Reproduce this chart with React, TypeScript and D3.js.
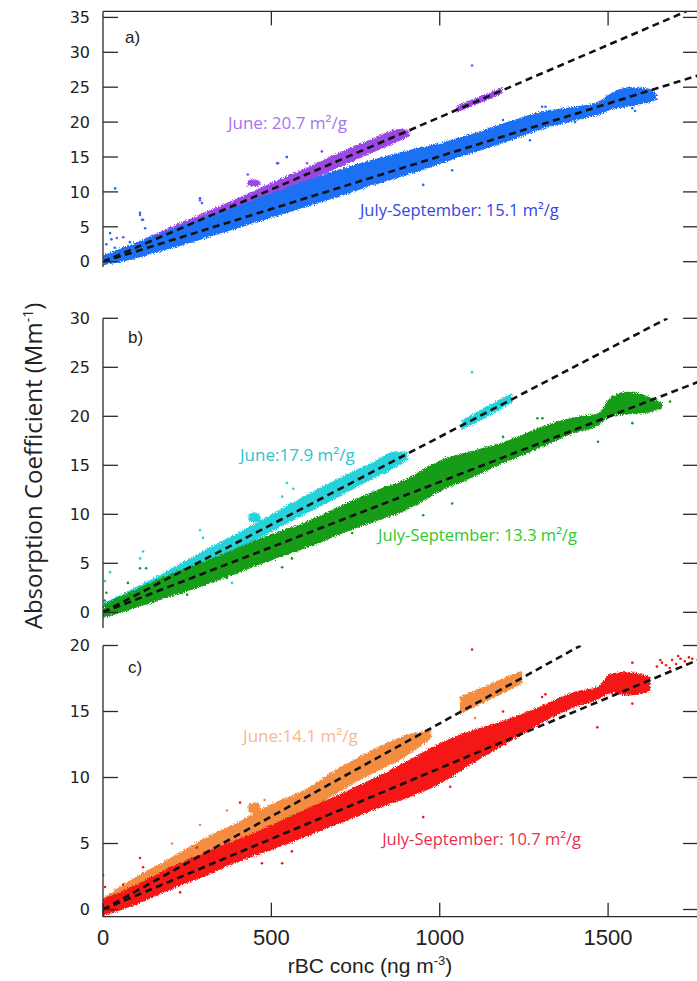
import React from "react";
import * as d3 from "d3";

// ---------- data ----------
const xTicks = [0, 500, 1000, 1500];
const yTicksA = [0, 5, 10, 15, 20, 25, 30, 35];
const yTicksB = [0, 5, 10, 15, 20, 25, 30];
const yTicksC = [0, 5, 10, 15, 20];
const panelLetters = ["a)", "b)", "c)"];

// fitted mass absorption cross sections (m2/g -> Mm-1 per ng m-3 = value/1000)
const juneSlopes = [0.0207, 0.0179, 0.0141];
const julySlopes = [0.0151, 0.0133, 0.0107];
const juneLabels = ["June: 20.7 m²/g", "June:17.9 m²/g", "June:14.1 m²/g"];
const julyLabels = ["July-September: 15.1 m²/g", "July-September: 13.3 m²/g", "July-September: 10.7 m²/g"];

type B = [number, number, number] | null;
// dense point clouds, read as [rBC, lower edge, upper edge]; null separates clusters
const juneBandA: B[] = [
  [0, -0.2, 0.8], [100, 1.4, 2.8], [200, 3.4, 4.9], [300, 5.4, 7.0], [400, 7.4, 9.1], [500, 9.4, 11.3],
  [600, 11.4, 13.4], [700, 13.5, 15.6], [800, 15.6, 17.6], [880, 17.3, 19.0], [910, 18.0, 18.8], null,
  [428, 10.9, 11.6], [448, 10.8, 11.8], [468, 11.0, 11.5], null,
  [1050, 21.4, 22.3], [1120, 22.7, 23.7], [1185, 24.1, 24.9],
];
const julyBandA: B[] = [
  [0, -0.5, 0.9], [100, 0.5, 2.8], [200, 1.9, 4.6], [300, 3.3, 6.3], [400, 4.8, 8.0], [500, 6.3, 9.8],
  [600, 7.8, 11.6], [700, 9.3, 13.2], [800, 10.9, 14.6], [900, 12.4, 15.9], [1000, 14.0, 17.0],
  [1100, 15.6, 18.4], [1200, 17.2, 20.0], [1300, 18.9, 21.5], [1400, 20.2, 22.2], [1470, 21.0, 22.9],
  [1510, 21.8, 24.2], [1560, 22.2, 25.0], [1620, 22.8, 24.8], [1645, 23.2, 24.0],
];
const juneBandB: B[] = [
  [0, -0.2, 0.9], [100, 1.2, 2.6], [200, 2.9, 4.4], [300, 4.7, 6.3], [400, 6.4, 8.1], [500, 8.2, 10.0],
  [600, 10.0, 11.9], [700, 11.8, 13.7], [800, 13.6, 15.3], [870, 14.8, 16.4], [905, 15.6, 16.4], null,
  [432, 9.4, 10.0], [450, 9.2, 10.2], [468, 9.3, 9.9], null,
  [1065, 18.6, 19.6], [1140, 19.9, 21.0], [1215, 21.4, 22.4],
];
const julyBandB: B[] = [
  [0, -0.6, 0.8], [100, 0.5, 2.4], [200, 1.6, 3.9], [300, 2.7, 5.2], [400, 4.0, 6.6], [500, 5.3, 8.0],
  [600, 6.5, 9.2], [700, 7.9, 10.8], [800, 9.2, 12.3], [900, 10.4, 13.6], [1000, 12.3, 15.5],
  [1100, 13.8, 16.5], [1200, 15.4, 17.5], [1300, 16.8, 18.9], [1400, 18.3, 19.9], [1470, 19.0, 20.3],
  [1510, 20.0, 22.0], [1560, 20.2, 22.5], [1620, 20.4, 22.0], [1660, 20.8, 21.4],
];
const juneBandC: B[] = [
  [0, -0.3, 0.9], [100, 0.9, 2.5], [200, 2.3, 3.9], [300, 3.7, 5.4], [400, 4.9, 6.6], [500, 6.2, 8.0],
  [600, 7.3, 9.1], [700, 8.9, 10.7], [800, 10.3, 12.1], [900, 11.6, 13.2], [975, 13.0, 13.6], null,
  [432, 7.4, 8.0], [450, 7.3, 8.1], [468, 7.4, 7.9], null,
  [1060, 14.8, 16.1], [1150, 15.9, 17.1], [1245, 17.1, 18.1],
];
const julyBandC: B[] = [
  [0, -0.5, 0.8], [100, 0.4, 1.9], [200, 1.5, 3.2], [300, 2.5, 4.3], [400, 3.6, 5.3], [500, 4.5, 6.4],
  [600, 5.5, 7.6], [700, 6.5, 8.7], [800, 7.5, 9.9], [900, 8.4, 11.2], [1000, 9.5, 12.6],
  [1100, 11.1, 13.6], [1200, 12.6, 14.4], [1300, 14.1, 15.4], [1400, 15.3, 16.5], [1470, 15.9, 16.9],
  [1510, 16.4, 17.9], [1560, 16.2, 18.0], [1625, 16.6, 17.6],
];

// scattered individual points [rBC, absorption]
const juneDotsA: [number, number][] = [
  [520, 14.1], [546, 15.0], [606, 14.1], [288, 8.8], [110, 6.7], [119, 6.0], [41, 3.4], [1096, 28.1], [430, 12.5], [650, 15.8],
];
const julyDotsA: [number, number][] = [
  [36, 10.5], [21, 4.1], [10, 2.5], [25, 3.2], [35, 2.0], [110, 7.0], [116, 6.0], [125, 4.8], [288, 9.1], [294, 8.4],
  [517, 14.1], [546, 15.0], [951, 11.0], [1037, 13.1], [1188, 20.3], [1268, 17.4], [1304, 22.2], [1314, 22.2],
  [1402, 20.0], [1572, 22.0], [1580, 21.6], [60, 3.5], [80, 2.8],
];
const juneDotsB: [number, number][] = [
  [546, 13.2], [532, 11.8], [110, 5.5], [119, 6.2], [21, 4.1], [6, 3.2], [288, 8.4], [297, 7.6], [383, 3.0], [1096, 24.5], [565, 12.6],
];
const julyDotsB: [number, number][] = [
  [110, 4.5], [128, 4.5], [74, 3.0], [235, 2.0], [250, 1.8], [368, 3.5], [416, 4.5], [532, 4.6], [561, 5.5], [624, 6.9],
  [740, 8.1], [1037, 11.1], [951, 9.9], [1188, 17.9], [1470, 17.4], [1572, 19.3], [1684, 21.5], [1290, 19.8], [1305, 19.8],
  [10, 2.0], [5, 1.2],
];
const juneDotsC: [number, number][] = [
  [368, 7.5], [288, 6.4], [205, 5.0], [674, 10.3], [1105, 14.5], [480, 8.3],
];
const julyDotsC: [number, number][] = [
  [0, 2.6], [6, 1.7], [110, 3.9], [119, 3.2], [150, 2.2], [229, 1.3], [279, 4.7], [407, 8.1], [472, 3.5], [532, 3.5],
  [561, 4.4], [725, 6.8], [1096, 19.7], [1304, 16.1], [1314, 16.3], [1188, 15.0], [951, 7.0], [1031, 9.3], [1090, 12.8],
  [1468, 13.8], [1572, 15.6], [1572, 18.7], [30, 0.6], [60, 1.9],
  [1645, 18.4], [1660, 18.7], [1672, 18.5], [1690, 18.9], [1702, 18.6], [1715, 19.0], [1728, 18.8], [1740, 19.1],
  [1655, 18.9], [1683, 18.3], [1708, 19.2], [1735, 18.6], [1750, 19.0],
];

// ---------- layout & style ----------
const W = 697;
const H = 981;
const X_LEFT = 103;
const X_RIGHT = 698;
const X_MAX = 1767;

const panels = [
  { domain: [-0.76, 35.86], range: [267, 11.4], ticks: yTicksA, june: juneBandA, july: julyBandA, jd: juneDotsA, kd: julyDotsA, frameTop: true, bottomAxis: false,
    juneAt: [371, 19.0], julyAt: [763, 6.6], letterAt: [125, 43] },
  { domain: [-1.6, 30], range: [628, 318.3], ticks: yTicksB, june: juneBandB, july: julyBandB, jd: juneDotsB, kd: julyDotsB, frameTop: false, bottomAxis: false,
    juneAt: [407, 15.4], julyAt: [817, 7.3], letterAt: [128, 343] },
  { domain: [-0.545, 20], range: [916.7, 645.5], ticks: yTicksC, june: juneBandC, july: julyBandC, jd: juneDotsC, kd: julyDotsC, frameTop: false, bottomAxis: true,
    juneAt: [416, 12.7], julyAt: [829, 4.9], letterAt: [128, 673] },
];

const juneFill = ["#9a46e3", "#25d2da", "#f28d42"];
const julyFill = ["#1f6ff3", "#169c16", "#f51414"];
const juneText = ["#a772f2", "#2ec4cc", "#f7b88e"];
const julyText = ["#3148e2", "#2fc82f", "#ea2f4c"];

const AX = "#2a2a2a";

export default function App() {
  const x = d3.scaleLinear().domain([0, X_MAX]).range([X_LEFT, X_RIGHT]);

  return (
    <svg width={W} height={H} viewBox={`0 0 ${W} ${H}`}
      style={{ position: "absolute", left: 0, top: 0, background: "#fff" }}>
      <defs>
        <filter id="rough" x="-5%" y="-10%" width="110%" height="120%">
          <feTurbulence type="fractalNoise" baseFrequency="1.1" numOctaves="2" seed="4" result="n" />
          <feDisplacementMap in="SourceGraphic" in2="n" scale="5" xChannelSelector="R" yChannelSelector="G" />
        </filter>
        {panels.map((p, i) => (
          <clipPath id={`clip${i}`} key={i}>
            <rect x={X_LEFT} y={p.range[1]} width={X_RIGHT - X_LEFT} height={p.range[0] - p.range[1]} />
          </clipPath>
        ))}
      </defs>
      <rect x={0} y={0} width={W} height={H} fill="#fff" />

      {panels.map((p, i) => {
        const y = d3.scaleLinear().domain(p.domain).range(p.range);
        const area = d3.area<B>()
          .defined((d) => d != null)
          .x((d) => x((d as any)[0]))
          .y0((d) => y((d as any)[1]))
          .y1((d) => y((d as any)[2]))
          .curve(d3.curveMonotoneX);
        const line = d3.line<[number, number]>().x((d) => x(d[0])).y((d) => y(d[1]));
        const top = p.domain[1];
        const fitPath = (s: number) => {
          const xe = Math.min(X_MAX, top / s);
          return line([[0, 0], [xe, s * xe]]) as string;
        };
        const yTop = p.range[1];
        const yBot = p.range[0];
        return (
          <g key={i}>
            <g clipPath={`url(#clip${i})`}>
              <path d={area(p.june) as string} fill={juneFill[i]} filter="url(#rough)" />
              <path d={area(p.july) as string} fill={julyFill[i]} filter="url(#rough)" />
              {p.jd.map((d, k) => (
                <circle key={"j" + k} cx={x(d[0])} cy={y(d[1])} r={1.3} fill={juneFill[i]} />
              ))}
              {p.kd.map((d, k) => (
                <circle key={"k" + k} cx={x(d[0])} cy={y(d[1])} r={1.3} fill={julyFill[i]} />
              ))}
              <path d={fitPath(juneSlopes[i])} fill="none" stroke="#111" strokeWidth={2.6} strokeDasharray="7 4.5" />
              <path d={fitPath(julySlopes[i])} fill="none" stroke="#111" strokeWidth={2.6} strokeDasharray="7 4.5" />
            </g>

            {/* left axis */}
            <line x1={X_LEFT} x2={X_LEFT} y1={yTop} y2={yBot} stroke={AX} strokeWidth={1.3} />
            {p.ticks.map((t) => (
              <g key={t}>
                <line x1={X_LEFT} x2={X_LEFT + 15} y1={y(t)} y2={y(t)} stroke={AX} strokeWidth={1.3} />
                <line x1={X_RIGHT - 15} x2={X_RIGHT} y1={y(t)} y2={y(t)} stroke={AX} strokeWidth={1.3} />
                <text x={90} y={y(t)} dy="0.36em" textAnchor="end" fontFamily="DejaVu Sans, sans-serif"
                  fontSize={16} fill="#222">{t}</text>
              </g>
            ))}
            {p.frameTop && (
              <g>
                <line x1={X_LEFT} x2={X_RIGHT} y1={yTop} y2={yTop} stroke={AX} strokeWidth={1.3} />
                {xTicks.filter((t) => t > 0).map((t) => (
                  <line key={t} x1={x(t)} x2={x(t)} y1={yTop} y2={yTop + 14} stroke={AX} strokeWidth={1.3} />
                ))}
              </g>
            )}
            {p.bottomAxis && (
              <g>
                <line x1={X_LEFT} x2={X_RIGHT} y1={yBot} y2={yBot} stroke={AX} strokeWidth={1.3} />
                {xTicks.map((t) => (
                  <g key={t}>
                    <line x1={x(t)} x2={x(t)} y1={yBot} y2={yBot - 14} stroke={AX} strokeWidth={1.3} />
                    <text x={x(t)} y={945} textAnchor="middle" fontFamily="Liberation Sans, Arial, sans-serif"
                      fontSize={22} fill="#222">{t}</text>
                  </g>
                ))}
              </g>
            )}

            <text x={p.letterAt[0]} y={p.letterAt[1]} fontFamily="Liberation Sans, Arial, sans-serif" fontSize={17} fill="#222">
              {panelLetters[i]}
            </text>
            <text x={x(p.juneAt[0])} y={y(p.juneAt[1])} fontFamily="Open Sans, sans-serif" fontSize={17} fill={juneText[i]}>
              {juneLabels[i]}
            </text>
            <text x={x(p.julyAt[0])} y={y(p.julyAt[1])} fontFamily="Open Sans, sans-serif" fontSize={16.5} fill={julyText[i]}>
              {julyLabels[i]}
            </text>
          </g>
        );
      })}

      <text transform="translate(42,466) rotate(-90)" textAnchor="middle" fontFamily="Open Sans, sans-serif"
        fontSize={24} fill="#222">
        Absorption Coefficient (Mm<tspan dy={-9} fontSize={14}>-1</tspan><tspan dy={9}>)</tspan>
      </text>
      <text x={370} y={973} textAnchor="middle" fontFamily="Liberation Sans, Arial, sans-serif" fontSize={21} fill="#222">
        rBC conc (ng m<tspan dy={-8} fontSize={13}>-3</tspan><tspan dy={8}>)</tspan>
      </text>
    </svg>
  );
}
